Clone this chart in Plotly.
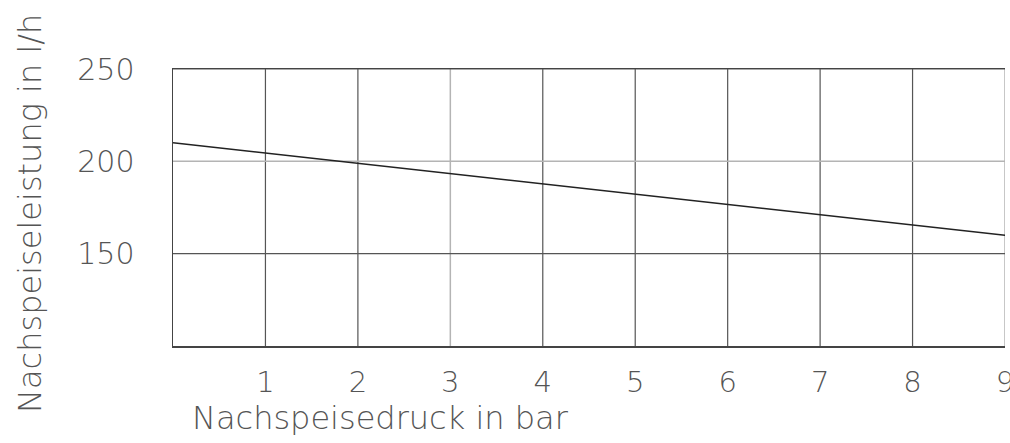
import plotly.graph_objects as go

# Data
pressure_bar = [0, 9]
flow_lph = [210, 160]
x_ticks = [1, 2, 3, 4, 5, 6, 7, 8, 9]
y_ticks = [150, 200, 250]
light_x = [3, 9]      # grid lines drawn lighter in the original
light_y = [200]
x_title = "Nachspeisedruck in bar"
y_title = "Nachspeiseleistung in l/h"

FONT = "DejaVu Sans"
TXT = "#555555"
W = 300
DARK = "#555555"
LIGHT = "#b4b4b4"

fig = go.Figure()
fig.add_trace(go.Scatter(
    x=pressure_bar, y=flow_lph, mode="lines",
    line=dict(color="#222222", width=1.5), showlegend=False,
    hoverinfo="skip",
))

shapes = []
for xv in x_ticks:
    shapes.append(dict(type="line", xref="x", yref="paper", x0=xv, x1=xv,
                       y0=0, y1=1, layer="below",
                       line=dict(color=LIGHT if xv in light_x else DARK,
                                 width=1.5 if xv in light_x else 1.2)))
for yv in y_ticks:
    shapes.append(dict(type="line", xref="paper", yref="y", x0=0, x1=1,
                       y0=yv, y1=yv, layer="below",
                       line=dict(color=LIGHT if yv in light_y else DARK,
                                 width=1.5 if yv in light_y else 1.2)))

fig.update_layout(
    width=1010, height=443,
    margin=dict(l=173, r=5, t=69, b=97),
    paper_bgcolor="white", plot_bgcolor="white",
    font=dict(family=FONT, color=TXT, size=29, weight=W),
    shapes=shapes,
    xaxis=dict(
        range=[0, 9], tickvals=x_ticks, ticktext=[str(v) for v in x_ticks],
        showgrid=False,
        showline=True, linecolor="#444444", linewidth=1.5, mirror=True,
        zeroline=False, ticks="", ticklabelstandoff=10,
        ticklabeloverflow="allow", automargin=False,
        tickfont=dict(family=FONT, size=29, color=TXT, weight=W),
    ),
    yaxis=dict(
        range=[100, 250], tickvals=y_ticks, ticktext=[str(v) for v in y_ticks],
        showgrid=False,
        showline=True, linecolor="#444444", linewidth=1.5, mirror=False,
        zeroline=False, ticks="", ticklabelstandoff=31,
        ticklabeloverflow="allow", automargin=False,
        tickfont=dict(family=FONT, size=30, color=TXT, weight=W),
    ),
    annotations=[
        dict(text=x_title, xref="paper", yref="paper", x=0.021, y=-0.26,
             xanchor="left", yanchor="middle", showarrow=False,
             font=dict(family=FONT, size=32, color=TXT, weight=W)),
        dict(text=y_title, xref="paper", yref="paper", x=-0.172, y=0.48,
             xanchor="center", yanchor="middle", textangle=-90, showarrow=False,
             font=dict(family=FONT, size=32, color=TXT, weight=W)),
    ],
)

fig.write_html(
    "out.html",
    config={"displayModeBar": False, "staticPlot": True},
    post_script="document.body.style.margin='0';document.body.style.overflow='hidden';",
)
